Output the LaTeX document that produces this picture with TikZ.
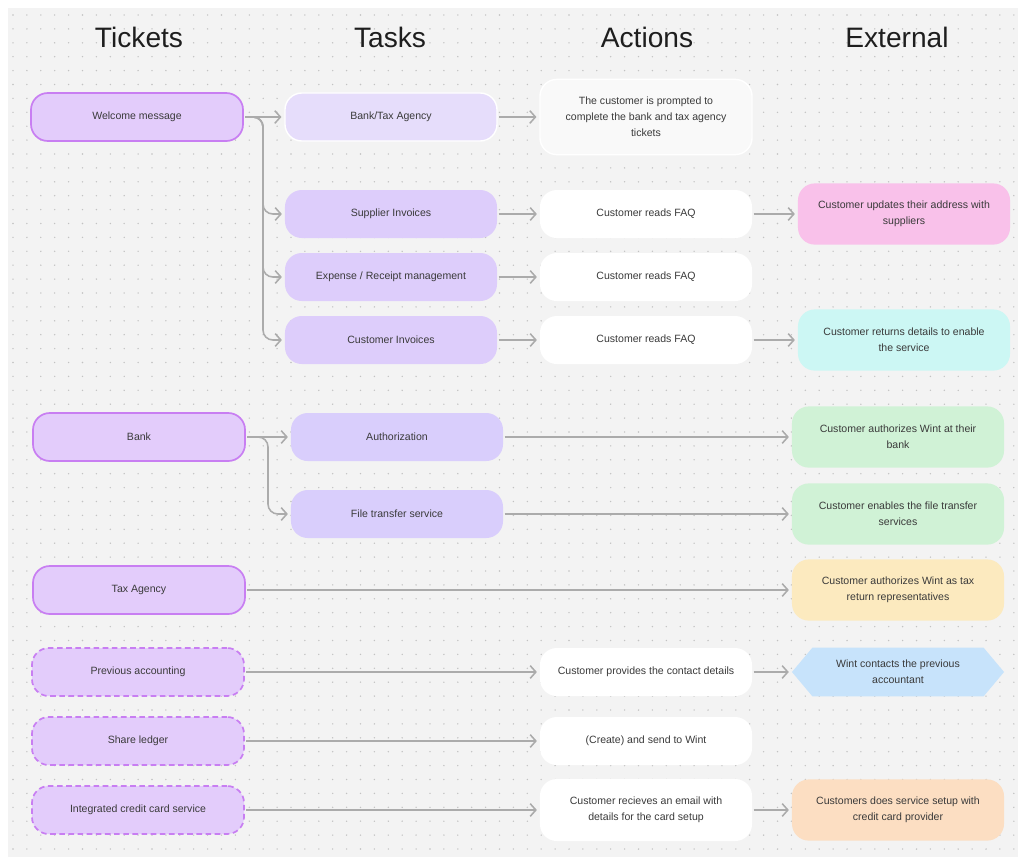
\documentclass[tikz,border=0pt]{standalone}
\usepackage{fontspec}
\setmainfont{Liberation Sans}
\usetikzlibrary{arrows.meta,shapes.symbols}

\definecolor{bggray}{HTML}{F3F3F3}
\definecolor{dotgray}{HTML}{C2C2C2}
\definecolor{tkfill}{HTML}{E3CCFB}
\definecolor{tkborder}{HTML}{C87EF2}
\definecolor{taskfill}{HTML}{DDCDFB}
\definecolor{tasklight}{HTML}{E6DDFB}
\definecolor{authfill}{HTML}{D9CEFC}
\definecolor{promptfill}{HTML}{F9F9F9}
\definecolor{extpink}{HTML}{F9C1EA}
\definecolor{extcyan}{HTML}{CCF7F4}
\definecolor{extgreen}{HTML}{D0F2D6}
\definecolor{extyellow}{HTML}{FCEABF}
\definecolor{extblue}{HTML}{C7E3FB}
\definecolor{extorange}{HTML}{FCDEC2}
\definecolor{linegray}{HTML}{ABABAB}
\definecolor{txtgray}{HTML}{3A3A3A}
\definecolor{headgray}{HTML}{1E1E1E}

\begin{document}
\begin{tikzpicture}[x=0.025cm,y=-0.025cm,
    box/.style={rounded corners=12pt, minimum width=5.3cm, minimum height=1.2cm,
      align=center, text=txtgray, font=\fontsize{7.5}{11.3}\selectfont, inner sep=2pt},
    ticket/.style={box, draw=tkborder, fill=tkfill, line width=1.2pt},
    dticket/.style={ticket, dash pattern=on 4pt off 2.5pt},
    task/.style={box, fill=taskfill},
    action/.style={box, fill=white},
    ext/.style={box, minimum height=1.53cm, fill=#1},
    hexbox/.style={shape=signal, signal to=west and east, signal pointer angle=100,
      minimum width=5.3cm, minimum height=1.22cm, fill=extblue, inner sep=2pt,
      align=center, text=txtgray, font=\fontsize{7.5}{11.3}\selectfont},
    conn/.style={draw=linegray, line width=1.1pt, -{Straight Barb[length=4pt,width=9pt]},
      shorten >=2pt, shorten <=1pt},
    head/.style={font=\fontsize{20}{24}\selectfont, text=headgray, anchor=base}
  ]
  %%%%% background %%%%%
  \useasboundingbox (0,0) rectangle (1018,857);
  \fill[white] (0,0) rectangle (1018,857);
  \fill[bggray] (8,8) rectangle (1018,857);
  \foreach \i in {0,...,72}
    \foreach \j in {0,...,60}
      \fill[dotgray] (13+\i*13.9, 15+\j*13.9) circle (0.55pt);

  %%%%% headings %%%%%
  \node[head] (hTickets) at (139,47) {Tickets};
  \node[head] (hTasks) at (390,47) {Tasks};
  \node[head] (hActions) at (647,47) {Actions};
  \node[head] (hExternal) at (897,47) {External};

  %%%%% tickets %%%%%
  \node[ticket] (wm) at (137,117) {Welcome message};
  \node[ticket] (bank) at (139,437) {Bank};
  \node[ticket] (tax) at (139,590) {Tax Agency};
  \node[dticket] (prev) at (138,672) {Previous accounting};
  \node[dticket] (share) at (138,741) {Share ledger};
  \node[dticket] (icc) at (138,810) {Integrated credit card service};

  %%%%% tasks %%%%%
  \node[task, fill=tasklight, draw=white, line width=1pt] (btax) at (391,117) {Bank/Tax Agency};
  \node[task] (sup) at (391,214) {Supplier Invoices};
  \node[task] (exp) at (391,277) {Expense / Receipt management};
  \node[task] (cinv) at (391,340) {Customer Invoices};
  \node[task, fill=authfill] (auth) at (397,437) {Authorization};
  \node[task, fill=authfill] (ftr) at (397,514) {File transfer service};

  %%%%% actions %%%%%
  \node[action, fill=promptfill, draw=white, line width=1pt, minimum height=1.88cm] (prompt) at (646,117)
    {The customer is prompted to\\complete the bank and tax agency\\tickets};
  \node[action] (faqA) at (646,214) {Customer reads FAQ};
  \node[action] (faqB) at (646,277) {Customer reads FAQ};
  \node[action] (faqC) at (646,340) {Customer reads FAQ};
  \node[action] (contact) at (646,672) {Customer provides the contact details};
  \node[action] (create) at (646,741) {(Create) and send to Wint};
  \node[action, minimum height=1.55cm] (email) at (646,810)
    {Customer recieves an email with\\details for the card setup};

  %%%%% external %%%%%
  \node[ext=extpink] (suppl) at (904,214) {Customer updates their address with\\suppliers};
  \node[ext=extcyan] (ret) at (904,340) {Customer returns details to enable\\the service};
  \node[ext=extgreen] (authbank) at (898,437) {Customer authorizes Wint at their\\bank};
  \node[ext=extgreen] (enable) at (898,514) {Customer enables the file transfer\\services};
  \node[ext=extyellow] (repr) at (898,590) {Customer authorizes Wint as tax\\return representatives};
  \node[hexbox] (acct) at (898,672) {Wint contacts the previous\\accountant};
  \node[ext=extorange] (card) at (898,810) {Customers does service setup with\\credit card provider};

  %%%%% connectors %%%%%
  \coordinate (wmfork) at (263,117);
  \coordinate (bankfork) at (268,437);
  \draw[conn] (wm.east) -- (btax.west);
  \draw[conn, rounded corners=7pt] (wm.east) -- (wmfork) |- (sup.west);
  \draw[conn, rounded corners=7pt] (wm.east) -- (wmfork) |- (exp.west);
  \draw[conn, rounded corners=7pt] (wm.east) -- (wmfork) |- (cinv.west);
  \draw[conn] (btax.east) -- (prompt.west);
  \draw[conn] (sup.east) -- (faqA.west);
  \draw[conn] (faqA.east) -- (suppl.west);
  \draw[conn] (exp.east) -- (faqB.west);
  \draw[conn] (cinv.east) -- (faqC.west);
  \draw[conn] (faqC.east) -- (ret.west);

  \draw[conn] (bank.east) -- (auth.west);
  \draw[conn, rounded corners=7pt] (bank.east) -- (bankfork) |- (ftr.west);
  \draw[conn] (auth.east) -- (authbank.west);
  \draw[conn] (ftr.east) -- (enable.west);
  \draw[conn] (tax.east) -- (repr.west);

  \draw[conn] (prev.east) -- (contact.west);
  \draw[conn] (contact.east) -- (acct.west);
  \draw[conn] (share.east) -- (create.west);
  \draw[conn] (icc.east) -- (email.west);
  \draw[conn] (email.east) -- (card.west);
\end{tikzpicture}
\end{document}
